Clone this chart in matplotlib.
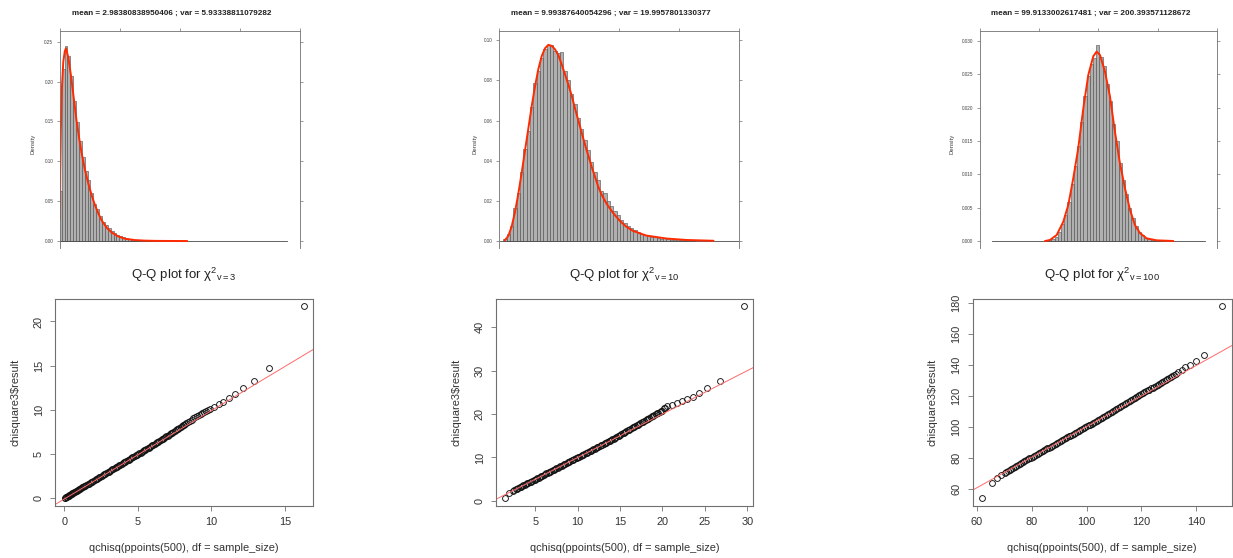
import numpy as np
import matplotlib.pyplot as plt

plt.rcParams['font.family'] = ['Liberation Sans', 'DejaVu Sans']
plt.rcParams['mathtext.fontset'] = 'custom'
plt.rcParams['mathtext.rm'] = 'Liberation Sans'
plt.rcParams['mathtext.it'] = 'Liberation Sans:italic'

W, H = 1233, 558

# ---- histograms (top row) ----
hist_titles = ["mean = 2.98380838950406 ; var = 5.93338811079282",
               "mean = 9.99387640054296 ; var = 19.9957801330377",
               "mean = 99.9133002617481 ; var = 200.393571128672"]

hist_df3_start = -0.2
hist_df3_width = 0.48
hist_df3_density = [0.063, 0.216, 0.245, 0.2325, 0.2075, 0.176, 0.149, 0.126, 0.105, 0.088,
                    0.077, 0.060, 0.047, 0.040, 0.031, 0.024, 0.020, 0.016, 0.0125, 0.0096,
                    0.0075, 0.0058, 0.0046, 0.0033, 0.0025, 0.0017, 0.0012, 0.0009, 0.0006, 0.0004,
                    0.0003, 0.0002, 0.0002, 0.0001, 0.0001]
hist_df3_span = [0.0, 37.8]
curve_df3_x = [0.0, 0.05, 0.15, 0.3, 0.55, 0.8, 1.0, 1.39, 1.83, 2.28, 2.72, 3.17, 3.61, 4.17,
               4.72, 5.28, 5.83, 6.39, 6.94, 7.78, 8.61, 9.72, 10.83, 12.5, 14.2, 16.0, 18.5, 21.2]
curve_df3_y = [0.028, 0.085, 0.14, 0.19, 0.225, 0.238, 0.2417, 0.230, 0.2075, 0.180, 0.153, 0.130,
               0.110, 0.089, 0.072, 0.0575, 0.045, 0.0346, 0.026, 0.0167, 0.0108, 0.0058, 0.0029,
               0.0012, 0.0005, 0.0002, 0.0001, 0.0]

hist_df10_start = 0.67
hist_df10_width = 0.555
hist_df10_density = [0.0008, 0.0033, 0.0075, 0.0165, 0.024, 0.0345, 0.046, 0.055, 0.0665, 0.0785,
                     0.0848, 0.091, 0.0958, 0.0975, 0.0975, 0.0945, 0.0935, 0.094, 0.0845, 0.0800,
                     0.0730, 0.0680, 0.0615, 0.0560, 0.0505, 0.0455, 0.0395, 0.0345, 0.0305, 0.0250,
                     0.0240, 0.0200, 0.0172, 0.0148, 0.0128, 0.0105, 0.0090, 0.0077, 0.0064, 0.0054,
                     0.0045, 0.0037, 0.0031, 0.0026, 0.0021, 0.0018, 0.0015, 0.0012, 0.0014, 0.0009,
                     0.0007, 0.0006, 0.0005, 0.0004, 0.0003, 0.0002, 0.0002, 0.0001]
hist_df10_span = [0.1, 40.0]
curve_df10_x = [0.9, 1.5, 2.06, 2.62, 3.17, 3.73, 4.28, 4.84, 5.39, 5.95, 6.5, 7.06, 7.62, 8.17,
                8.73, 9.28, 9.84, 10.4, 10.95, 11.5, 12.06, 12.62, 13.17, 13.73, 14.28, 14.84,
                15.39, 15.95, 16.5, 17.06, 17.89, 19.0, 20.1, 21.2, 22.3, 24.5, 27.9, 31.2, 35.7]
curve_df10_y = [0.0003, 0.0025, 0.0072, 0.0145, 0.0235, 0.034, 0.045, 0.056, 0.067, 0.077, 0.0855,
                0.092, 0.096, 0.0977, 0.0972, 0.0955, 0.0925, 0.088, 0.083, 0.078, 0.0725, 0.066,
                0.060, 0.054, 0.048, 0.0425, 0.037, 0.032, 0.027, 0.023, 0.0185, 0.0138, 0.010,
                0.007, 0.005, 0.0027, 0.0012, 0.0005, 0.0001]

hist_df100_start = 55.0
hist_df100_width = 2.7
hist_df100_density = [0.00005, 0.0001, 0.0003, 0.0006, 0.0013, 0.0026, 0.0039, 0.0058, 0.0085,
                      0.0112, 0.0143, 0.0178, 0.0217, 0.0248, 0.0266, 0.0274, 0.0294, 0.0276,
                      0.0262, 0.0236, 0.0210, 0.0176, 0.0150, 0.0117, 0.0092, 0.0070, 0.0050,
                      0.0034, 0.0022, 0.0014, 0.0009, 0.0005, 0.0003, 0.0002, 0.0001, 0.0001, 0.00005]
hist_df100_span = [10.0, 190.0]
curve_df100_x = [54.9, 59.1, 64.8, 70.4, 74.6, 78.8, 83.0, 87.3, 91.5, 95.7, 98.5, 101.4, 105.6,
                 109.8, 114.0, 118.2, 122.5, 126.7, 130.9, 135.1, 140.8, 149.2, 163.3]
curve_df100_y = [0.0, 0.00015, 0.0009, 0.0029, 0.0054, 0.0094, 0.0139, 0.0199, 0.0249, 0.0277,
                 0.0284, 0.0279, 0.0254, 0.0217, 0.0164, 0.0117, 0.0079, 0.0047, 0.0024, 0.0012,
                 0.0004, 0.0001, 0.0]

# ---- Q-Q plots (bottom row) ----
qq_df3_theory = [0.02, 0.06, 0.10, 0.14, 0.18, 0.22, 0.26, 0.30, 0.35, 0.40, 0.45, 0.50, 0.55,
                 0.60, 0.66, 0.72, 0.78, 0.84, 0.90, 0.96, 1.02, 1.09, 1.16, 1.23, 1.30, 1.37,
                 1.44, 1.51, 1.58, 1.66, 1.74, 1.82, 1.90, 1.98, 2.06, 2.14, 2.22, 2.30, 2.38,
                 2.46, 2.54, 2.62, 2.70, 2.78, 2.86, 2.94, 3.02, 3.10, 3.18, 3.26, 3.34, 3.42,
                 3.50, 3.58, 3.66, 3.74, 3.82, 3.90, 3.98, 4.06, 4.14, 4.22, 4.30, 4.38, 4.46,
                 4.54, 4.62, 4.70, 4.78, 4.86, 4.94, 5.02, 5.10, 5.18, 5.26, 5.34, 5.42, 5.50,
                 5.58, 5.66, 5.74, 5.82, 5.90, 5.98,
                 6.06, 6.14, 6.22, 6.30, 6.38, 6.46, 6.54, 6.62, 6.70, 6.78, 6.86, 6.94, 7.02,
                 7.10, 7.18, 7.26, 7.34, 7.42, 7.50, 7.58, 7.66, 7.74, 7.82, 7.90, 7.98, 8.06,
                 8.14, 8.22, 8.30, 8.42, 8.54, 8.66, 8.78, 8.90, 9.02, 9.14, 9.26, 9.38, 9.50,
                 9.62, 9.74, 9.93, 10.20, 10.50, 10.79, 11.16, 11.59, 12.11, 12.86, 13.93, 16.29]
qq_df3_sample = [0.02, 0.06, 0.10, 0.14, 0.18, 0.22, 0.26, 0.30, 0.35, 0.40, 0.45, 0.50, 0.55,
                 0.60, 0.66, 0.72, 0.78, 0.84, 0.90, 0.96, 1.02, 1.09, 1.16, 1.23, 1.30, 1.37,
                 1.44, 1.51, 1.58, 1.66, 1.74, 1.82, 1.90, 1.98, 2.06, 2.14, 2.22, 2.30, 2.38,
                 2.46, 2.54, 2.62, 2.70, 2.78, 2.86, 2.94, 3.02, 3.10, 3.18, 3.26, 3.34, 3.42,
                 3.50, 3.58, 3.66, 3.74, 3.82, 3.90, 3.98, 4.06, 4.14, 4.22, 4.30, 4.38, 4.46,
                 4.54, 4.62, 4.70, 4.78, 4.86, 4.94, 5.02, 5.10, 5.18, 5.26, 5.34, 5.42, 5.50,
                 5.58, 5.66, 5.74, 5.82, 5.90, 5.98,
                 6.08, 6.16, 6.25, 6.33, 6.42, 6.50, 6.59, 6.67, 6.76, 6.84, 6.93, 7.01, 7.10,
                 7.18, 7.27, 7.35, 7.44, 7.53, 7.62, 7.71, 7.80, 7.89, 7.98, 8.07, 8.16, 8.25,
                 8.34, 8.43, 8.52, 8.65, 8.78, 8.91, 9.04, 9.17, 9.29, 9.41, 9.53, 9.65, 9.77,
                 9.89, 9.99, 10.10, 10.36, 10.63, 10.89, 11.39, 11.84, 12.48, 13.25, 14.69, 21.70]
qq_df3_line = (-0.08, 1.0)   # intercept, slope

qq_df10_theory = [1.49, 1.97, 2.37,
                  2.55, 2.70, 2.85, 3.00, 3.15, 3.30, 3.45, 3.60, 3.75, 3.90, 4.05, 4.20, 4.35,
                  4.50, 4.65, 4.80, 4.95, 5.10, 5.25, 5.40, 5.55, 5.70, 5.85, 6.00, 6.15, 6.30,
                  6.45, 6.60, 6.75, 6.90, 7.05, 7.20, 7.35, 7.50, 7.65, 7.80, 7.95, 8.10, 8.25,
                  8.40, 8.55, 8.70, 8.85, 9.00, 9.15, 9.30, 9.45, 9.60, 9.75, 9.90, 10.05, 10.20,
                  10.35, 10.50, 10.65, 10.80, 10.95, 11.10, 11.25, 11.40, 11.55, 11.70, 11.85,
                  12.00, 12.15, 12.30, 12.45, 12.60, 12.75, 12.90, 13.05, 13.20, 13.35, 13.50,
                  13.65, 13.80, 13.95, 14.10, 14.25, 14.40, 14.55, 14.70, 14.85, 15.00, 15.15,
                  15.30, 15.45, 15.60, 15.75, 15.90, 16.05, 16.20, 16.35, 16.50, 16.65, 16.80,
                  16.95, 17.10, 17.25, 17.40, 17.55, 17.70, 17.85, 18.00, 18.15, 18.30, 18.45,
                  18.60, 18.75, 18.90, 19.05, 19.20, 19.35, 19.50, 19.65, 19.80, 19.95,
                  20.15, 20.35, 20.55, 21.14, 21.73, 22.32, 22.90, 23.60, 24.33, 25.19, 26.72, 29.60]
qq_df10_sample = [0.62, 1.77, 2.31,
                  2.52, 2.67, 2.82, 2.97, 3.12, 3.27, 3.42, 3.57, 3.72, 3.87, 4.02, 4.17, 4.32,
                  4.47, 4.62, 4.77, 4.92, 5.07, 5.22, 5.37, 5.52, 5.67, 5.82, 6.02, 6.17, 6.32,
                  6.47, 6.62, 6.77, 6.92, 7.07, 7.22, 7.37, 7.52, 7.67, 7.82, 7.97, 8.12, 8.27,
                  8.42, 8.57, 8.72, 8.87, 9.02, 9.17, 9.32, 9.47, 9.62, 9.77, 9.92, 10.07, 10.22,
                  10.37, 10.52, 10.67, 10.82, 10.97, 11.12, 11.27, 11.42, 11.57, 11.72, 11.87,
                  12.05, 12.20, 12.35, 12.50, 12.65, 12.80, 12.95, 13.10, 13.25, 13.40, 13.55,
                  13.70, 13.85, 14.00, 14.19, 14.36, 14.53, 14.70, 14.87, 15.04, 15.21, 15.38,
                  15.55, 15.72, 15.89, 16.06, 16.23, 16.40, 16.57, 16.74, 16.91, 17.08, 17.25,
                  17.42, 17.58, 17.75, 17.92, 18.09, 18.26, 18.43, 18.60, 18.77, 18.94, 19.11,
                  19.28, 19.45, 19.62, 19.79, 19.96, 20.13, 20.30, 20.47, 20.64, 20.81,
                  21.30, 21.50, 21.77, 22.08, 22.54, 22.92, 23.47, 23.93, 24.77, 25.90, 27.50, 44.85]
qq_df10_line = (0.0, 1.0)

qq_df100_theory = [61.83, 65.48, 67.44, 68.90, 70.10,
                   70.7, 71.3, 71.9, 72.5, 73.1, 73.7, 74.3, 74.9, 75.5, 76.1, 76.7, 77.3, 77.9,
                   78.5, 79.1, 79.7, 80.3, 80.9, 81.5, 82.1, 82.7, 83.3, 83.9, 84.5, 85.1, 85.7,
                   86.3, 86.9, 87.5, 88.1, 88.7, 89.3, 89.9,
                   90.5, 91.1, 91.7, 92.3, 92.9, 93.5, 94.1, 94.7, 95.3, 95.9, 96.5, 97.1, 97.7,
                   98.3, 98.9, 99.5, 100.1, 100.7, 101.3, 101.9, 102.5, 103.1, 103.7, 104.3, 104.9,
                   105.5, 106.1, 106.7, 107.3, 107.9, 108.5, 109.1, 109.7,
                   110.3, 110.9, 111.5, 112.1, 112.7, 113.3, 113.9, 114.5,
                   115.1, 115.7, 116.3, 116.9, 117.5, 118.1, 118.7, 119.3, 119.9,
                   120.5, 121.1, 121.7, 122.3, 122.9, 123.5, 124.1, 124.7, 125.3, 125.9, 126.5,
                   127.1, 127.7, 128.3, 128.9, 129.5, 130.1, 130.7, 131.3, 131.9, 132.5,
                   133.4, 134.7, 136.1, 137.7, 139.9, 142.9, 149.3]
qq_df100_sample = [53.77, 63.9, 66.7, 68.9, 70.4,
                   71.05, 71.65, 72.25, 72.9, 73.5, 74.1, 74.7, 75.3, 75.95, 76.55, 77.15, 77.75, 78.35,
                   78.95, 79.55, 80.15, 80.75, 81.3, 81.9, 82.5, 83.1, 83.7, 84.3, 84.9, 85.5, 86.1,
                   86.65, 87.25, 87.85, 88.45, 89.05, 89.65, 90.25,
                   90.85, 91.45, 92.0, 92.6, 93.2, 93.8, 94.4, 95.0, 95.6, 96.2, 96.75, 97.35, 97.95,
                   98.55, 99.15, 99.75, 100.35, 100.95, 101.5, 102.1, 102.7, 103.3, 103.9, 104.5, 105.1,
                   105.7, 106.35, 106.95, 107.55, 108.2, 108.8, 109.4, 110.05,
                   110.7, 111.35, 112.0, 112.65, 113.3, 113.95, 114.6, 115.25,
                   115.9, 116.55, 117.2, 117.85, 118.5, 119.15, 119.8, 120.45, 121.1,
                   121.7, 122.35, 122.95, 123.6, 124.2, 124.85, 125.45, 126.1, 126.7, 127.35, 127.95,
                   128.6, 129.2, 129.85, 130.45, 131.1, 131.7, 132.35, 133.0, 133.6, 134.25,
                   135.7, 136.8, 138.5, 140.2, 142.4, 146.5, 178.0]
qq_df100_line = (1.4, 0.988)

qq_df_labels = ['3', '10', '100']


fig = plt.figure(figsize=(W / 100, H / 100), dpi=100)


def px_axes(left, top, right, bottom):
    return fig.add_axes([left / W, 1 - bottom / H, (right - left) / W, (bottom - top) / H])


# ---------------- top row ----------------
top_boxes = [(60, 31, 300, 248.3), (499.3, 31, 739.3, 248), (980, 31, 1216.7, 248)]
top_xlims = [(0, 40), (0, 40), (0, 200)]
top_xticks = [[0, 10, 20, 30, 40], [0, 10, 20, 30, 40], [0, 50, 100, 150, 200]]
top_ylims = [(-0.0091, 0.2634), (-0.0035, 0.1046), (-0.00105, 0.0315)]
top_yticks = [[0, 0.05, 0.10, 0.15, 0.20, 0.25],
              [0, 0.02, 0.04, 0.06, 0.08, 0.10],
              [0, 0.005, 0.010, 0.015, 0.020, 0.025, 0.030]]
top_fmt = ['{:.2f}', '{:.2f}', '{:.3f}']
dens_offset = [26.7, 24.3, 28.3]

hists = [(hist_df3_start, hist_df3_width, hist_df3_density, hist_df3_span, curve_df3_x, curve_df3_y),
         (hist_df10_start, hist_df10_width, hist_df10_density, hist_df10_span, curve_df10_x, curve_df10_y),
         (hist_df100_start, hist_df100_width, hist_df100_density, hist_df100_span, curve_df100_x, curve_df100_y)]

for i, (start, width, dens, span, cx, cy) in enumerate(hists):
    box = top_boxes[i]
    ax = px_axes(*box)
    axw = box[2] - box[0]
    axh = box[3] - box[1]
    edges = start + width * np.arange(len(dens))
    ax.bar(edges, dens, width=width, align='edge', color='#b0b0b0',
           edgecolor='#4a4a4a', linewidth=0.4)
    ax.plot(span, [0, 0], color='#4a4a4a', lw=0.6)
    ax.plot(cx, cy, color='#ff2a00', lw=1.4, solid_capstyle='round', solid_joinstyle='round')

    ax.set_xlim(top_xlims[i])
    ax.set_ylim(top_ylims[i])
    ax.spines['bottom'].set_visible(False)
    for s in ['left', 'top', 'right']:
        ax.spines[s].set_color('#707070')
        ax.spines[s].set_linewidth(0.6)
    ax.set_xticks(top_xticks[i])
    ax.tick_params(axis='x', top=True, bottom=False, labeltop=False, labelbottom=False,
                   direction='out', length=2.3, width=0.5, color='#707070')
    ax.set_yticks(top_yticks[i])
    ax.set_yticklabels([top_fmt[i].format(t) for t in top_yticks[i]])
    ax.tick_params(axis='y', left=True, right=True, labelleft=True, labelright=False,
                   direction='out', length=2.3, width=0.5, color='#707070',
                   labelsize=3.3, labelcolor='#404040', pad=2.5)
    ax.text(-dens_offset[i] / axw, 0.48, 'Density', rotation=90, transform=ax.transAxes,
            ha='center', va='center', fontsize=4.3, color='#404040')
    ax.text(0.5 - 8 / axw, 1 + 18 / axh, hist_titles[i], transform=ax.transAxes,
            ha='center', va='center', fontsize=5.9, fontweight='bold', color='#222222')

# ---------------- bottom row ----------------
bot_boxes = [(55, 298.5, 313.3, 506), (496, 298.5, 753.3, 506), (972.7, 298.5, 1231.7, 506)]
bot_xlims = [(-0.63, 16.92), (0.38, 30.7), (58.4, 153.0)]
bot_ylims = [(-0.87, 22.6), (-1.17, 46.6), (48.8, 183.1)]
bot_xticks = [[0, 5, 10, 15], [5, 10, 15, 20, 25, 30], [60, 80, 100, 120, 140]]
bot_yticks = [[0, 5, 10, 15, 20], [0, 10, 20, 30, 40], [60, 80, 100, 120, 140, 160, 180]]

qqs = [(qq_df3_theory, qq_df3_sample, qq_df3_line),
       (qq_df10_theory, qq_df10_sample, qq_df10_line),
       (qq_df100_theory, qq_df100_sample, qq_df100_line)]

for i, (tx, sy, (icpt, slope)) in enumerate(qqs):
    box = bot_boxes[i]
    ax = px_axes(*box)
    axw = box[2] - box[0]
    axh = box[3] - box[1]
    ax.plot(tx, sy, linestyle='none', marker='o', ms=4.2, mfc='none', mec='#111111', mew=0.65)
    ax.axline((0, icpt), slope=slope, color='#ff6a6a', lw=0.7)
    ax.set_xlim(bot_xlims[i])
    ax.set_ylim(bot_ylims[i])
    ax.set_xticks(bot_xticks[i])
    ax.set_yticks(bot_yticks[i])
    for s in ax.spines.values():
        s.set_color('#707070')
        s.set_linewidth(0.8)
    ax.tick_params(direction='out', length=3.6, width=0.6, color='#707070',
                   labelsize=7.9, labelcolor='#333333', pad=4.5)
    ax.tick_params(axis='y', labelrotation=90)
    for lbl in ax.get_yticklabels():
        lbl.set_va('center')
    ax.text(0.5, -42 / axh, 'qchisq(ppoints(500), df = sample_size)', transform=ax.transAxes,
            ha='center', va='center', fontsize=7.9, color='#333333')
    ax.text(-40 / axw, 0.5, 'chisquare3$result', rotation=90, transform=ax.transAxes,
            ha='center', va='center', fontsize=7.9, color='#333333')
    ax.text(0.5, 1 + 23.5 / axh,
            'Q-Q plot for χ' + r'${}^{2}{}_{\mathrm{v=' + qq_df_labels[i] + r'}}$',
            transform=ax.transAxes, ha='center', va='center', fontsize=9.5, color='#222222')

fig.savefig('out.png', dpi=100)
